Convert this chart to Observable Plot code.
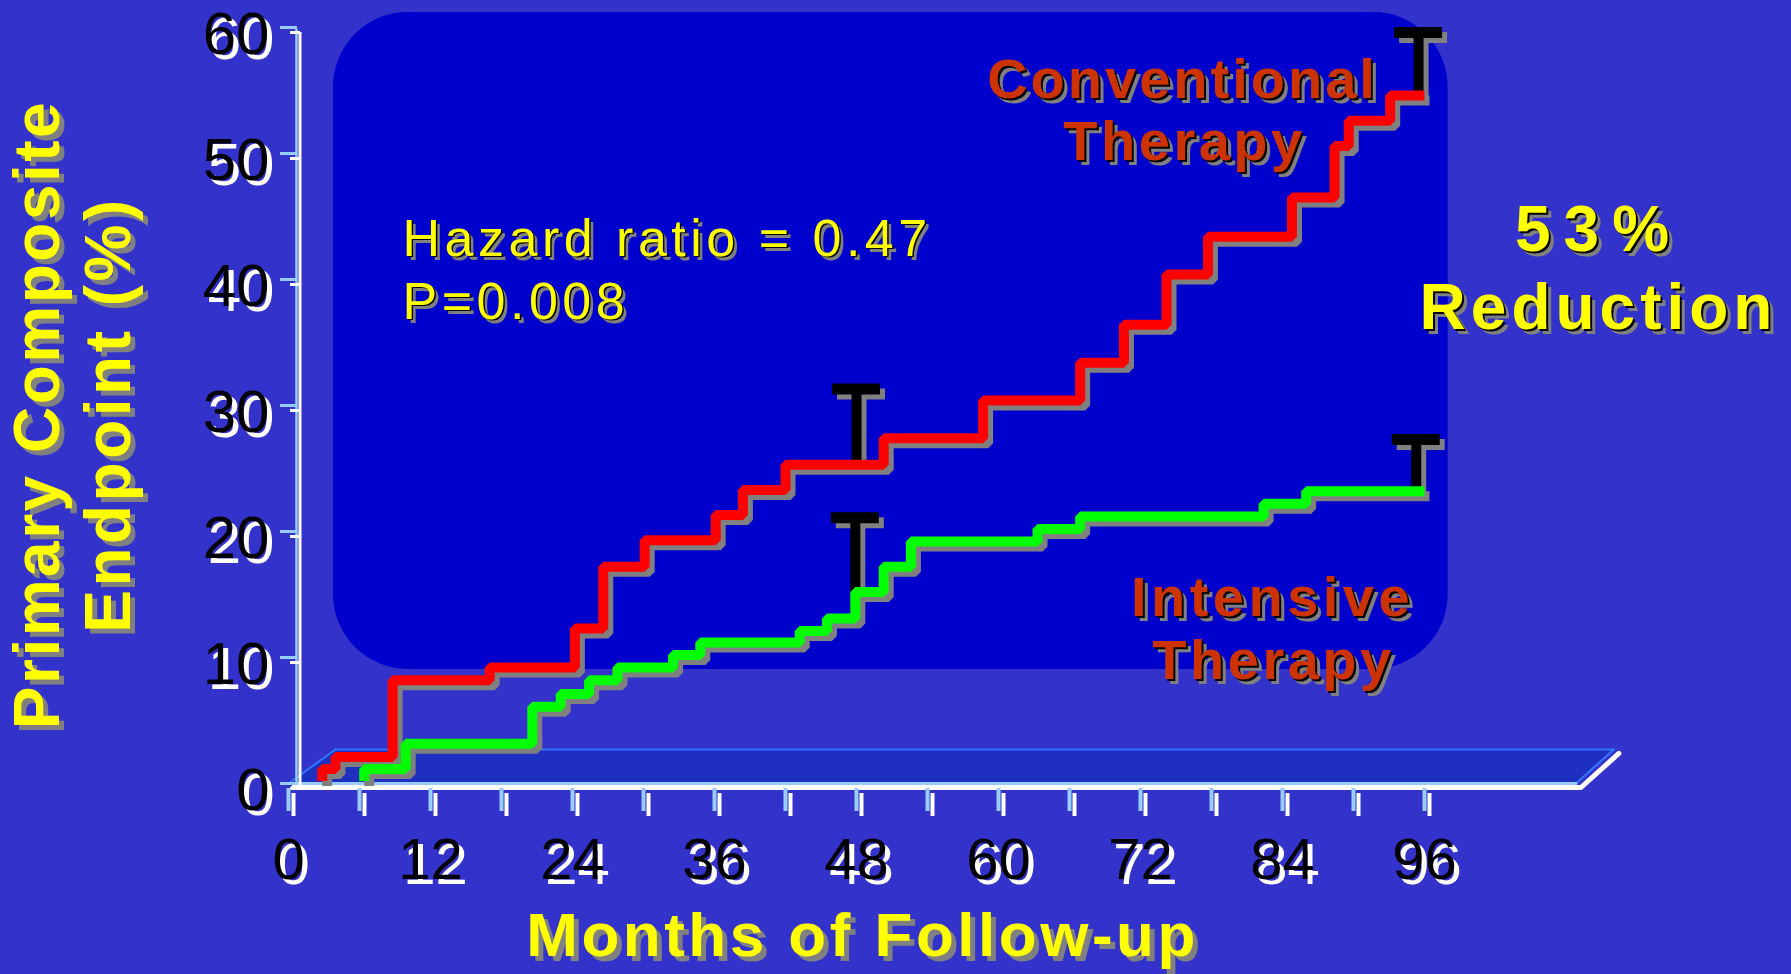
<!DOCTYPE html>
<html>
<head>
<meta charset="utf-8">
<script src="https://cdn.jsdelivr.net/npm/d3@7"></script>
<script src="https://cdn.jsdelivr.net/npm/@observablehq/plot@0.6"></script>
<style>
  html, body { margin: 0; padding: 0; background: #3333cc; overflow: hidden; }
  #chart svg { display: block; }
</style>
</head>
<body>
<div id="chart"></div>
<script>
// ---------------- data ----------------
const conventionalMonths = [2.85, 2.85, 3.97, 8.8, 17.0, 24.2, 26.6, 30.1, 36.1, 38.4, 42.0, 50.3, 58.7, 66.9, 70.6, 74.2, 77.7, 84.8, 88.4, 89.6, 93.1, 96];
const conventionalPct    = [0.2, 1.16, 2.1, 8.2, 9.2, 12.3, 17.2, 19.3, 21.3, 23.3, 25.3, 27.4, 30.4, 33.4, 36.4, 40.4, 43.4, 46.5, 50.6, 52.6, 54.6, 54.6];
const intensiveMonths    = [6.4, 6.4, 9.9, 20.6, 23.0, 25.4, 27.8, 32.5, 34.8, 43.2, 45.5, 47.9, 50.3, 52.6, 63.3, 66.9, 82.4, 86.0, 96];
const intensivePct       = [0.2, 1.16, 3.15, 6.1, 7.1, 8.2, 9.2, 10.2, 11.2, 12.1, 13.1, 15.2, 17.2, 19.2, 20.2, 21.2, 22.2, 23.2, 23.2];
// upper confidence limits drawn as "T" marks
const ciMonths = [48.0, 95.5, 47.9, 95.3];
const ciFrom   = [25.3, 54.6, 15.2, 23.2];
const ciTo     = [31.3, 59.6, 21.1, 27.3];
// ticks
const xTickLabels = [0, 12, 24, 36, 48, 60, 72, 84, 96];
const xMinorTicks = [0, 6, 12, 18, 24, 30, 36, 42, 48, 54, 60, 66, 72, 78, 84, 90, 96];
const yTickLabels = [0, 10, 20, 30, 40, 50, 60];
// texts
const xTitle = "Months of Follow-up";
const yTitleLines = ["Primary Composite", "Endpoint (%)"];
const statLines = ["Hazard ratio = 0.47", "P=0.008"];
const convLabel = ["Conventional", "Therapy"];
const intLabel = ["Intensive", "Therapy"];
const reductionLabel = ["53%", "Reduction"];

// decorative background panel and 3-D floor (in data units)
const panel = [{x1: 3.8, x2: 98.0, y1: 9.05, y2: 61.2}];
const floorPoly = [{y: 0, x1: 0, x2: 108.8}, {y: 2.7, x1: 3.97, x2: 112.0}];

// ---------------- tables ----------------
const conv = conventionalMonths.map((m, i) => ({month: m, pct: conventionalPct[i]}));
const inten = intensiveMonths.map((m, i) => ({month: m, pct: intensivePct[i]}));
const ci = ciMonths.map((m, i) => ({month: m, from: ciFrom[i], to: ciTo[i]}));
const floorBack = [[floorPoly[1].x1, floorPoly[1].y], [floorPoly[1].x2, floorPoly[1].y]];
const floorLeft = [[floorPoly[0].x1, floorPoly[0].y], [floorPoly[1].x1, floorPoly[1].y]];
const floorRight = [[floorPoly[0].x2, floorPoly[0].y], [floorPoly[1].x2, floorPoly[1].y]];
const floorFront = [[floorPoly[0].x1, floorPoly[0].y], [floorPoly[0].x2, floorPoly[0].y]];
const floorWhite = [[floorPoly[0].x1, floorPoly[0].y], [floorPoly[0].x2, floorPoly[0].y], [floorPoly[1].x2, floorPoly[1].y]];

const FONT = "'Liberation Sans', Arial, Helvetica, sans-serif";
const GRAY = "#808080";

function layered(text, opts, layers) {
  return layers.map(l => Plot.text([text], {
    ...opts,
    text: d => d,
    fill: l.fill,
    dx: (opts.dx || 0) + l.dx,
    dy: (opts.dy || 0) + l.dy
  }));
}
const boldLayers = c => [{dx: 5, dy: 5, fill: GRAY}, {dx: 2, dy: 2, fill: "black"}, {dx: 0, dy: 0, fill: c}];
const titleLayers = [{dx: 5, dy: 5, fill: GRAY}, {dx: 0, dy: 0, fill: "#ffff00"}];
const statLayers = [{dx: 4, dy: 4, fill: GRAY}, {dx: 1.5, dy: 1.5, fill: "black"}, {dx: 0, dy: 0, fill: "#ffff00"}];
const tickLayers = [{dx: 5, dy: 5, fill: "white"}, {dx: 0, dy: 0, fill: "black"}];

const xy = {x: d => d[0], y: d => d[1]};
const stepLine = (data, stroke, extra = {}) => Plot.line(data, {
  x: "month", y: "pct", curve: "step-after", stroke, strokeWidth: 10,
  strokeLinejoin: "miter", strokeLinecap: "butt", ...extra
});

const marks = [
  // background panel
  Plot.rect(panel, {x1: "x1", x2: "x2", y1: "y1", y2: "y2", rx: 75, fill: "#0000cc"}),
  // floor
  Plot.areaX(floorPoly, {y: "y", x1: "x1", x2: "x2", fill: "#1f2fbf", curve: "linear"}),
  Plot.line(floorWhite, {...xy, stroke: "white", strokeWidth: 5, dx: 5, dy: 4}),
  Plot.line(floorBack, {...xy, stroke: "#3377ff", strokeWidth: 2}),
  Plot.line(floorLeft, {...xy, stroke: "#3377ff", strokeWidth: 2}),
  Plot.line(floorRight, {...xy, stroke: "#3377ff", strokeWidth: 2}),
  Plot.line(floorFront, {...xy, stroke: "#99ccff", strokeWidth: 3}),
  // y axis (double line)
  Plot.ruleX([0], {x: d => d, y1: () => 0, y2: () => 60, stroke: "#99ccff", strokeWidth: 2.5, dx: 8, insetBottom: -2}),
  Plot.ruleX([0], {x: d => d, y1: () => 0, y2: () => 60, stroke: "white", strokeWidth: 3, dx: 11.5, insetTop: 3, insetBottom: -5}),
  // y ticks
  Plot.ruleY(yTickLabels, {y: d => d, x1: () => 0, x2: () => 0, insetLeft: -8, insetRight: -9, stroke: "#99ccff", strokeWidth: 3}),
  Plot.ruleY(yTickLabels, {y: d => d, x1: () => 0, x2: () => 0, insetLeft: 2, insetRight: -12, stroke: "white", strokeWidth: 3, dy: 5}),
  // x ticks
  Plot.ruleX(xMinorTicks, {x: d => d, y1: () => 0, y2: () => 0, insetTop: 5, insetBottom: -28, stroke: "#99ccff", strokeWidth: 4}),
  Plot.ruleX(xMinorTicks, {x: d => d, y1: () => 0, y2: () => 0, insetTop: 10, insetBottom: -33, stroke: "white", strokeWidth: 4, dx: 5}),
  // tick labels
  ...tickLayers.map(l => Plot.text(yTickLabels, {y: d => d, x: () => 0, text: d => String(d), textAnchor: "end", lineAnchor: "bottom",
      dx: -19 + l.dx, dy: 26 + l.dy, fill: l.fill, fontSize: 60, fontFamily: FONT})),
  ...tickLayers.map(l => Plot.text(xTickLabels, {x: d => d, y: () => 0, text: d => String(d), textAnchor: "middle", lineAnchor: "bottom",
      dx: l.dx, dy: 95 + l.dy, fill: l.fill, fontSize: 58, fontFamily: FONT})),
  // confidence "T" shadows
  Plot.ruleX(ci, {x: "month", y1: "from", y2: "to", stroke: GRAY, strokeWidth: 10, dx: 5, dy: 5}),
  Plot.ruleY(ci, {y: "to", x1: "month", x2: "month", insetLeft: -24, insetRight: -24, stroke: GRAY, strokeWidth: 11, dx: 5, dy: 5}),
  // curve shadows
  stepLine(conv, GRAY, {dx: 5, dy: 5}),
  stepLine(inten, GRAY, {dx: 5, dy: 5}),
  // confidence "T"
  Plot.ruleX(ci, {x: "month", y1: "from", y2: "to", stroke: "black", strokeWidth: 10}),
  Plot.ruleY(ci, {y: "to", x1: "month", x2: "month", insetLeft: -24, insetRight: -24, stroke: "black", strokeWidth: 11}),
  // curves
  stepLine(conv, "#ff0000"),
  stepLine(inten, "#00ff00"),
  // annotations
  ...layered(statLines[0], {frameAnchor: "top-left", textAnchor: "start", lineAnchor: "bottom", dx: 114, dy: 228, fontSize: 52, fontFamily: FONT}, statLayers),
  ...layered(statLines[1], {frameAnchor: "top-left", textAnchor: "start", lineAnchor: "bottom", dx: 114, dy: 291, fontSize: 52, fontFamily: FONT}, statLayers),
  ...layered(convLabel[0], {frameAnchor: "top-left", textAnchor: "middle", lineAnchor: "bottom", dx: 894, dy: 70, fontSize: 56, fontWeight: "bold", fontFamily: FONT}, boldLayers("#cc3300")),
  ...layered(convLabel[1], {frameAnchor: "top-left", textAnchor: "middle", lineAnchor: "bottom", dx: 896, dy: 132, fontSize: 56, fontWeight: "bold", fontFamily: FONT}, boldLayers("#cc3300")),
  ...layered(intLabel[0], {frameAnchor: "top-left", textAnchor: "middle", lineAnchor: "bottom", dx: 984, dy: 588, fontSize: 56, fontWeight: "bold", fontFamily: FONT}, boldLayers("#cc3300")),
  ...layered(intLabel[1], {frameAnchor: "top-left", textAnchor: "middle", lineAnchor: "bottom", dx: 985, dy: 651, fontSize: 56, fontWeight: "bold", fontFamily: FONT}, boldLayers("#cc3300")),
  ...layered(reductionLabel[0], {frameAnchor: "top-left", textAnchor: "middle", lineAnchor: "bottom", dx: 1310, dy: 223, fontSize: 64, fontWeight: "bold", fontFamily: FONT}, boldLayers("#ffff00")),
  ...layered(reductionLabel[1], {frameAnchor: "top-left", textAnchor: "middle", lineAnchor: "bottom", dx: 1310, dy: 301, fontSize: 64, fontWeight: "bold", fontFamily: FONT}, boldLayers("#ffff00")),
  // axis titles
  ...layered(xTitle, {frameAnchor: "bottom", textAnchor: "middle", lineAnchor: "bottom", dx: 6, dy: 172, fontSize: 62, fontWeight: "bold", fontFamily: FONT}, titleLayers),
  ...layered(yTitleLines[0], {frameAnchor: "left", textAnchor: "middle", lineAnchor: "bottom", rotate: -90, dx: -230, dy: 9, fontSize: 64, fontWeight: "bold", fontFamily: FONT}, titleLayers),
  ...layered(yTitleLines[1], {frameAnchor: "left", textAnchor: "middle", lineAnchor: "bottom", rotate: -90, dx: -159, dy: 9, fontSize: 64, fontWeight: "bold", fontFamily: FONT}, titleLayers)
];

const chart = Plot.plot({
  width: 1791,
  height: 974,
  marginLeft: 288,
  marginRight: 367,
  marginTop: 27,
  marginBottom: 191,
  x: {domain: [0, 96], axis: null},
  y: {domain: [0, 60], axis: null},
  style: {background: "#3333cc", fontFamily: FONT, overflow: "visible"},
  marks
});

// letter spacing to match the slide's wide lettering
const spacing = {
  "Hazard ratio = 0.47": 4.5, "P=0.008": 4.5,
  "Conventional": 3, "Therapy": 3.5, "Intensive": 4.5,
  "53%": 13, "Reduction": 5,
  "Months of Follow-up": 3.5, "Primary Composite": 2.5, "Endpoint (%)": 3.5
};
d3.select(chart).selectAll("text").each(function () {
  const s = spacing[this.textContent];
  if (s != null) this.setAttribute("letter-spacing", s);
});
document.getElementById("chart").appendChild(chart);
</script>
</body>
</html>
